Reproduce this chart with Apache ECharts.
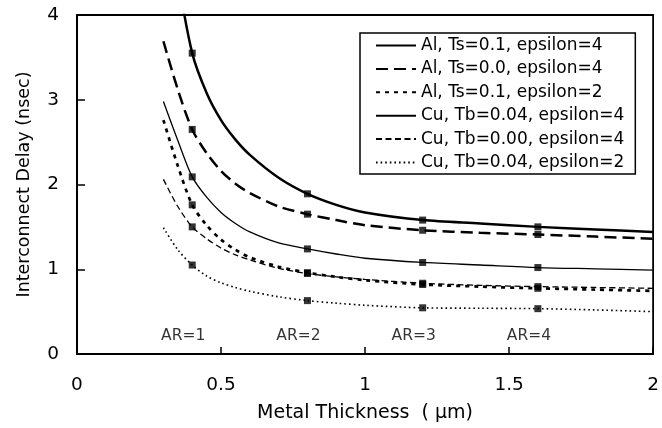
<!DOCTYPE html>
<html>
<head>
<meta charset="utf-8">
<script src="https://cdn.jsdelivr.net/npm/echarts@6/dist/echarts.min.js"></script>
<style>
html,body{margin:0;padding:0;background:#fff;}
#chart{width:662px;height:428px;}
</style>
</head>
<body>
<div id="chart"></div>
<script>
// Metal thickness (µm) sample points
const xs = [0.3, 0.35, 0.4, 0.45, 0.5, 0.55, 0.6, 0.7, 0.8, 0.9, 1.0, 1.2, 1.4, 1.6, 1.8, 2.0];
// Interconnect delay (nsec)
const alTs01Eps4  = [null, 4.45, 3.55, 3.08, 2.76, 2.53, 2.35, 2.08, 1.89, 1.76, 1.67, 1.58, 1.54, 1.50, 1.47, 1.44];
const alTs00Eps4  = [3.69, 3.12, 2.65, 2.37, 2.16, 2.01, 1.90, 1.74, 1.65, 1.58, 1.52, 1.46, 1.43, 1.41, 1.385, 1.36];
const alTs01Eps2  = [2.76, 2.22, 1.76, 1.52, 1.35, 1.23, 1.14, 1.03, 0.96, 0.91, 0.87, 0.82, 0.795, 0.775, 0.76, 0.745];
const cuTb004Eps4 = [2.98, 2.52, 2.09, 1.85, 1.67, 1.54, 1.44, 1.31, 1.24, 1.18, 1.13, 1.08, 1.05, 1.02, 1.005, 0.99];
const cuTb000Eps4 = [2.06, 1.74, 1.50, 1.36, 1.25, 1.17, 1.11, 1.01, 0.95, 0.91, 0.88, 0.835, 0.81, 0.795, 0.785, 0.775];
const cuTb004Eps2 = [1.49, 1.23, 1.05, 0.92, 0.84, 0.785, 0.74, 0.675, 0.63, 0.60, 0.575, 0.545, 0.54, 0.535, 0.52, 0.50];
const seriesNames = [
  'Al, Ts=0.1, epsilon=4',
  'Al, Ts=0.0, epsilon=4',
  'Al, Ts=0.1, epsilon=2',
  'Cu, Tb=0.04, epsilon=4',
  'Cu, Tb=0.00, epsilon=4',
  'Cu, Tb=0.04, epsilon=2'
];
// Marked aspect-ratio points
const markerXs = [0.4, 0.8, 1.2, 1.6];
const arLabels = ['AR=1', 'AR=2', 'AR=3', 'AR=4'];
const xTicks = [0, 0.5, 1, 1.5, 2];
const yTicks = [0, 1, 2, 3, 4];

const seriesValues = [alTs01Eps4, alTs00Eps4, alTs01Eps2, cuTb004Eps4, cuTb000Eps4, cuTb004Eps2];
const lineStyles = [
  {width: 2.5, type: 'solid'},
  {width: 2.5, type: [12, 6]},
  {width: 2.7, type: [4, 5]},
  {width: 1.3, type: 'solid'},
  {width: 1.3, type: [6, 3.5]},
  {width: 1.6, type: [1.6, 3]}
];
const FONT = 'DejaVu Sans';

const series = [];
seriesValues.forEach((vals, i) => {
  series.push({
    name: seriesNames[i],
    type: 'line',
    data: xs.map((x, j) => [x, vals[j]]),
    symbol: 'none',
    smooth: 0.3,
    connectNulls: false,
    clip: true,
    lineStyle: Object.assign({color: '#000'}, lineStyles[i]),
    itemStyle: {color: '#000'},
    emphasis: {disabled: true},
    z: 3
  });
});
const markerData = [];
seriesValues.forEach(vals => {
  markerXs.forEach(mx => {
    const j = xs.indexOf(mx);
    markerData.push([mx, vals[j]]);
  });
});
series.push({
  type: 'scatter',
  data: markerData,
  symbol: 'rect',
  symbolSize: 7,
  itemStyle: {color: '#000'},
  emphasis: {disabled: true},
  z: 4
});
series.push({
  type: 'scatter',
  data: markerXs.map((x, i) => ({value: [x, 0.21], name: arLabels[i]})),
  symbolSize: 0,
  label: {
    show: true,
    position: 'inside',
    offset: [-9, 0],
    formatter: p => p.name,
    fontFamily: FONT,
    fontSize: 15.5,
    color: '#000'
  },
  emphasis: {disabled: true},
  z: 5
});

const chart = echarts.init(document.getElementById('chart'), null, {renderer: 'canvas'});
chart.setOption({
  animation: false,
  backgroundColor: '#fff',
  grid: {left: 77, right: 6, top: 15, bottom: 73, show: true, borderColor: '#000', borderWidth: 1.8, backgroundColor: 'transparent'},
  legend: {
    data: seriesNames,
    orient: 'vertical',
    left: 360,
    top: 33,
    backgroundColor: '#fff',
    borderColor: '#000',
    borderWidth: 1.5,
    borderRadius: 0,
    padding: [4, 11, 3, 15],
    itemWidth: 40,
    itemHeight: 14,
    itemGap: 6.4,
    selectedMode: false,
    itemStyle: {color: 'rgba(0,0,0,0)', borderColor: 'rgba(0,0,0,0)', borderWidth: 0, opacity: 0},
    textStyle: {fontFamily: FONT, fontSize: 17, color: '#000'}
  },
  xAxis: {
    type: 'value',
    min: xTicks[0],
    max: xTicks[xTicks.length - 1],
    interval: 0.5,
    name: 'Metal Thickness  ( µm)',
    nameLocation: 'middle',
    nameGap: 50,
    nameTextStyle: {fontFamily: FONT, fontSize: 19, color: '#000'},
    axisLine: {show: true, lineStyle: {color: '#000', width: 2}},
    axisTick: {show: true, inside: true, length: 7, lineStyle: {color: '#000', width: 1.5}},
    axisLabel: {margin: 22, fontFamily: FONT, fontSize: 18.5, color: '#000'},
    splitLine: {show: false}
  },
  yAxis: {
    type: 'value',
    min: yTicks[0],
    max: yTicks[yTicks.length - 1],
    interval: 1,
    name: 'Interconnect Delay (nsec)',
    nameLocation: 'middle',
    nameGap: 44,
    nameTextStyle: {fontFamily: FONT, fontSize: 17.5, color: '#000'},
    axisLine: {show: true, lineStyle: {color: '#000', width: 2}},
    axisTick: {show: true, inside: true, length: 8, lineStyle: {color: '#000', width: 1.5}},
    axisLabel: {margin: 18, fontFamily: FONT, fontSize: 18.5, color: '#000'},
    splitLine: {show: false}
  },
  series: series
});
</script>
</body>
</html>
